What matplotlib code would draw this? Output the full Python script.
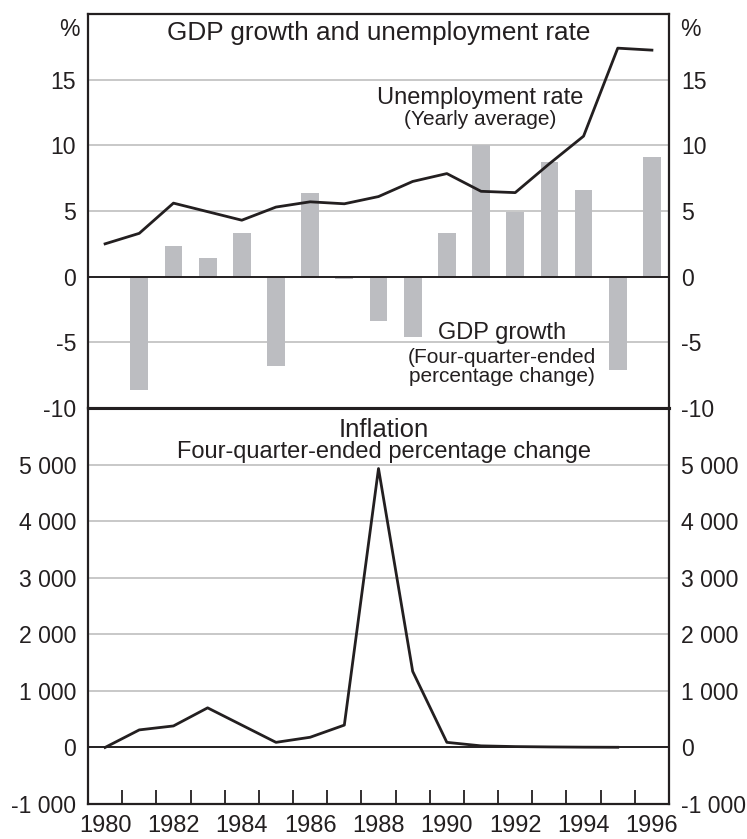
import numpy as np
import matplotlib.pyplot as plt

plt.rcParams['font.family'] = ['Liberation Sans', 'DejaVu Sans']
plt.rcParams['axes.unicode_minus'] = False

# data
bar_years = np.arange(1981, 1997)
gdp_growth = [-8.6, 2.3, 1.45, 3.3, -6.8, 6.4, -0.2, -3.4, -4.6, 3.35, 10.0, 4.9, 8.7, 6.6, -7.1, 9.1]

unemp_years = np.arange(1980, 1997)
unemp_rate = [2.5, 3.3, 5.6, 4.95, 4.3, 5.3, 5.7, 5.55, 6.1, 7.25, 7.85, 6.5, 6.4, 8.6, 10.7, 17.4, 17.25]

infl_years = np.arange(1980, 1996)
inflation = [0, 310, 380, 700, 395, 90, 180, 395, 4930, 1345, 90, 28, 15, 9, 5, 3]

top_ticks = [-10, -5, 0, 5, 10, 15]
bot_ticks = [-1000, 0, 1000, 2000, 3000, 4000, 5000]
bot_labels = ['-1 000', '0', '1 000', '2 000', '3 000', '4 000', '5 000']
year_labels = [str(y) for y in range(1980, 1997, 2)]

dark = '#231f20'
grid_c = '#c8c8c8'
bar_c = '#bcbdc1'
fs = 16.6

fig = plt.figure(figsize=(7.47, 8.39), dpi=100)
ax1 = fig.add_axes([0.1178, 0.5137, 0.7778, 0.4696])
ax2 = fig.add_axes([0.1178, 0.0417, 0.7778, 0.4720])

for ax in (ax1, ax2):
    ax.set_xlim(1980, 1997)
    for s in ax.spines.values():
        s.set_color(dark)
        s.set_linewidth(1.6)
    ax.tick_params(axis='y', length=0, labelsize=fs, labelright=True, colors=dark)

# ---- top panel
for g in [-5, 5, 10, 15]:
    ax1.axhline(g, color=grid_c, lw=1.4, zorder=0)
ax1.axhline(0, color=dark, lw=1.4, zorder=3)
ax1.bar(bar_years + 0.5, gdp_growth, width=0.52, color=bar_c, zorder=1)
ax1.plot(unemp_years + 0.5, unemp_rate, color=dark, lw=2.0, zorder=4)
ax1.set_ylim(-10, 20)
ax1.set_yticks(top_ticks)
ax1.set_xticks([])
ax1.tick_params(axis='y', which='major', pad=8.5)
ax1.spines['bottom'].set_linewidth(2.2)

ax1.text(0.5, 0.952, 'GDP growth and unemployment rate', transform=ax1.transAxes,
         ha='center', va='center', fontsize=18.8, color=dark)
ax1.text(0.675, 0.787, 'Unemployment rate', transform=ax1.transAxes,
         ha='center', va='center', fontsize=17, color=dark)
ax1.text(0.675, 0.731, '(Yearly average)', transform=ax1.transAxes,
         ha='center', va='center', fontsize=15, color=dark)
ax1.text(0.713, 0.19, 'GDP growth', transform=ax1.transAxes,
         ha='center', va='center', fontsize=17, color=dark)
ax1.text(0.713, 0.129, '(Four-quarter-ended', transform=ax1.transAxes,
         ha='center', va='center', fontsize=15, color=dark)
ax1.text(0.713, 0.079, 'percentage change)', transform=ax1.transAxes,
         ha='center', va='center', fontsize=15, color=dark)

fig.text(69 / 747, 1 - 30 / 839, '%', ha='center', va='center', fontsize=16.5, color=dark)
fig.text(690 / 747, 1 - 30 / 839, '%', ha='center', va='center', fontsize=16.5, color=dark)

# ---- bottom panel
for g in [1000, 2000, 3000, 4000, 5000]:
    ax2.axhline(g, color=grid_c, lw=1.4, zorder=0)
ax2.axhline(0, color=dark, lw=1.4, zorder=3)
ax2.plot(infl_years + 0.5, inflation, color=dark, lw=2.0, zorder=4)
ax2.set_ylim(-1000, 6000)
ax2.set_yticks(bot_ticks)
ax2.set_yticklabels(bot_labels)
ax2.tick_params(axis='y', which='major', pad=8.5)
ax2.spines['top'].set_linewidth(2.2)

ax2.set_xticks(np.arange(1981, 1997))
ax2.set_xticklabels([])
ax2.tick_params(axis='x', which='major', direction='in', length=10, width=1.3, color=dark)
ax2.set_xticks(np.arange(1980, 1997, 2) + 0.5, minor=True)
ax2.set_xticklabels(year_labels, minor=True)
ax2.tick_params(axis='x', which='minor', length=0, labelsize=17, pad=8, colors=dark)

ax2.text(0.509, 0.944, 'Inflation', transform=ax2.transAxes,
         ha='center', va='center', fontsize=18.5, color=dark)
ax2.text(0.509, 0.889, 'Four-quarter-ended percentage change', transform=ax2.transAxes,
         ha='center', va='center', fontsize=17, color=dark)

fig.savefig('out.png', dpi=100)
